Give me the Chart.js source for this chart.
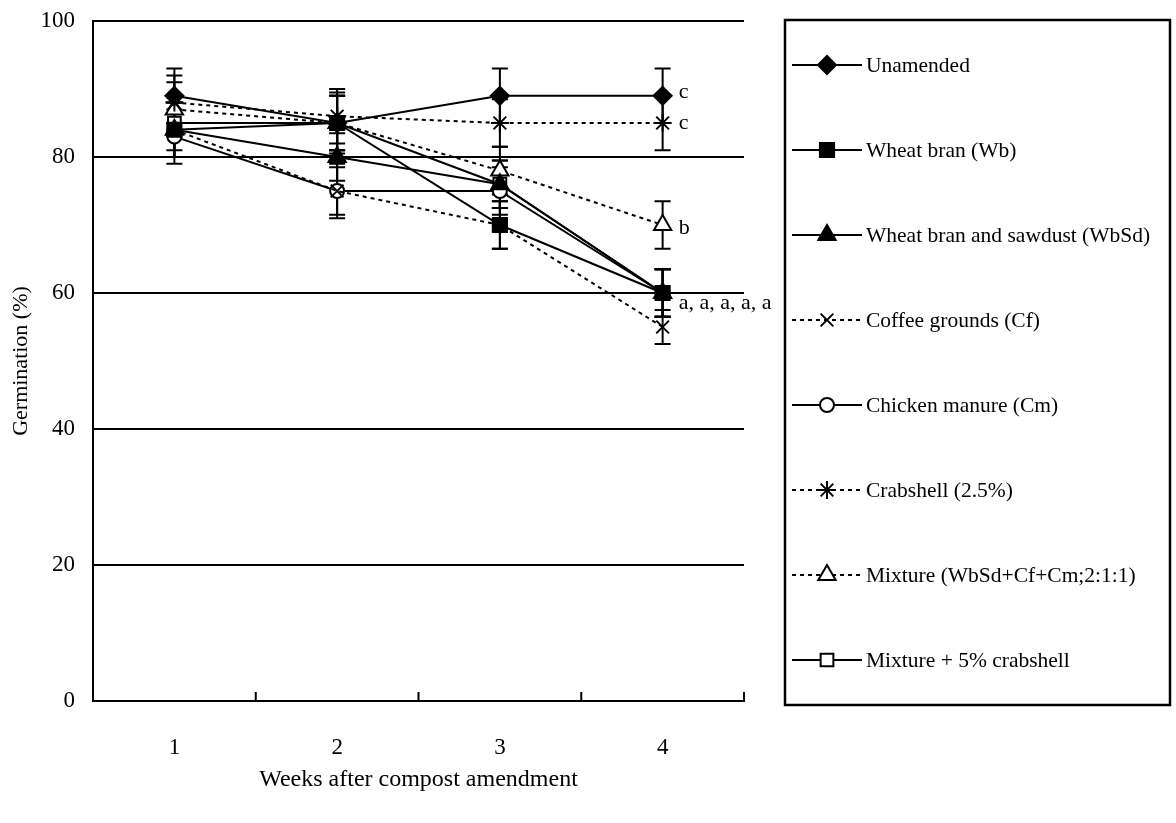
<!DOCTYPE html>
<html>
<head>
<meta charset="utf-8">
<script src="https://cdn.jsdelivr.net/npm/chart.js@4/dist/chart.umd.min.js"></script>
<style>
  html, body { margin: 0; padding: 0; background: #fff; }
  #wrap { width: 1176px; height: 823px; position: relative; }
</style>
</head>
<body>
<div id="wrap"><canvas id="germ"></canvas></div>
<script>
// ── Data ──────────────────────────────────────────────────────────────────────

const weeks = ['1', '2', '3', '4'];
const yTicks = [0, 20, 40, 60, 80, 100];

const seriesNames = [
	'Unamended',
	'Wheat bran (Wb)',
	'Wheat bran and sawdust (WbSd)',
	'Coffee grounds (Cf)',
	'Chicken manure (Cm)',
	'Crabshell (2.5%)',
	'Mixture (WbSd+Cf+Cm;2:1:1)',
	'Mixture + 5% crabshell',
];

const unamended = [89, 85, 89, 89];
const wheatBran = [84, 85, 70, 60];
const wheatBranSawdust = [84, 80, 76, 60];
const coffeeGrounds = [84, 75, 70, 55];
const chickenManure = [83, 75, 75, 60];
const crabshell = [88, 86, 85, 85];
const mixture = [87, 85, 78, 70];
const mixtureCrab = [85, 85, 76, 60];

// standard error (±) per point
const errUnamended = [4, 4.5, 4, 4];
const errWheatBran = [4, 4, 3.5, 3.5];
const errWheatBranSawdust = [4, 3.5, 3.5, 3.5];
const errCoffeeGrounds = [4, 4, 3.5, 2.5];
const errChickenManure = [4, 3.5, 3.5, 3.5];
const errCrabshell = [4, 4, 3.5, 4];
const errMixture = [4, 4, 3.5, 3.5];
const errMixtureCrab = [4, 4, 3.5, 3.5];

// significance letters at week 4
const letterText = ['c', 'c', 'b', 'a, a, a, a, a'];
const letterValue = [89.5, 85, 69.5, 58.5];

// ── Styles ────────────────────────────────────────────────────────────────────

const FONT = "'Liberation Serif', 'Times New Roman', serif";
const DASH = [4, 4];

const seriesValues = [unamended, wheatBran, wheatBranSawdust, coffeeGrounds,
	chickenManure, crabshell, mixture, mixtureCrab];
const seriesErrors = [errUnamended, errWheatBran, errWheatBranSawdust, errCoffeeGrounds,
	errChickenManure, errCrabshell, errMixture, errMixtureCrab];

const STYLES = [
	{ point: 'rectRot', radius: 9, fill: '#000', dash: [] },
	{ point: 'rect', radius: 10, fill: '#000', dash: [] },
	{ point: 'triangle', radius: 10, fill: '#000', dash: [] },
	{ point: 'crossRot', radius: 9, fill: '#000', dash: DASH },
	{ point: 'circle', radius: 7, fill: '#fff', dash: [] },
	{ point: 'star', radius: 9, fill: '#000', dash: DASH },
	{ point: 'triangle', radius: 10, fill: '#fff', dash: DASH },
	{ point: 'rect', radius: 9, fill: '#fff', dash: [] },
];

const datasets = seriesNames.map((name, i) => ({
	label: name,
	data: seriesValues[i],
	errors: seriesErrors[i],
	borderColor: '#000',
	borderWidth: 2,
	borderDash: STYLES[i].dash,
	tension: 0,
	fill: false,
	pointStyle: STYLES[i].point,
	pointRadius: STYLES[i].radius,
	pointHoverRadius: STYLES[i].radius,
	pointBackgroundColor: STYLES[i].fill,
	pointBorderColor: '#000',
	pointBorderWidth: 2,
}));

// ── Marker drawing (legend) ───────────────────────────────────────────────────

function drawMarker(ctx, style, x, y) {
	const opts = {
		pointStyle: style.point,
		radius: style.radius,
		rotation: 0,
		borderWidth: 2,
	};
	ctx.save();
	ctx.setLineDash([]);
	ctx.fillStyle = style.fill;
	ctx.strokeStyle = '#000';
	ctx.lineWidth = 2;
	if (window.Chart && Chart.helpers && Chart.helpers.drawPoint) {
		Chart.helpers.drawPoint(ctx, opts, x, y);
	} else {
		ctx.beginPath();
		ctx.arc(x, y, style.radius, 0, Math.PI * 2);
		ctx.fill();
		ctx.stroke();
	}
	ctx.restore();
}

// ── Plugins ───────────────────────────────────────────────────────────────────

const errorBars = {
	id: 'errorBars',
	beforeDatasetsDraw(chart) {
		const { ctx, scales: { y } } = chart;
		ctx.save();
		ctx.strokeStyle = '#000';
		ctx.lineWidth = 2;
		ctx.setLineDash([]);
		chart.data.datasets.forEach((ds, i) => {
			const meta = chart.getDatasetMeta(i);
			ds.data.forEach((v, j) => {
				const e = ds.errors[j];
				const px = meta.data[j].x;
				const top = y.getPixelForValue(v + e);
				const bot = y.getPixelForValue(v - e);
				ctx.beginPath();
				ctx.moveTo(px, top);
				ctx.lineTo(px, bot);
				ctx.moveTo(px - 8, top);
				ctx.lineTo(px + 8, top);
				ctx.moveTo(px - 8, bot);
				ctx.lineTo(px + 8, bot);
				ctx.stroke();
			});
		});
		ctx.restore();
	},
};

const decorations = {
	id: 'decorations',
	afterDraw(chart) {
		const { ctx, scales: { x, y } } = chart;
		ctx.save();

		// inward tick marks on the x axis, between categories
		ctx.strokeStyle = '#000';
		ctx.lineWidth = 2;
		for (let i = 0; i < weeks.length; i++) {
			const px = x.getPixelForValue(i + 0.5);
			ctx.beginPath();
			ctx.moveTo(px, y.bottom);
			ctx.lineTo(px, y.bottom - 9);
			ctx.stroke();
		}

		// significance letters
		ctx.fillStyle = '#000';
		ctx.font = '22px ' + FONT;
		ctx.textBaseline = 'middle';
		ctx.textAlign = 'left';
		const lx = x.getPixelForValue(weeks.length - 1) + 16;
		letterText.forEach((t, i) => {
			ctx.fillText(t, lx, y.getPixelForValue(letterValue[i]));
		});

		// legend box
		const box = { left: 785, top: 20, right: 1170, bottom: 705 };
		ctx.lineWidth = 2.5;
		ctx.strokeRect(box.left, box.top, box.right - box.left, box.bottom - box.top);

		ctx.font = '21.5px ' + FONT;
		seriesNames.forEach((name, i) => {
			const cy = 65 + i * 85;
			ctx.save();
			ctx.lineWidth = 2;
			ctx.setLineDash(STYLES[i].dash);
			ctx.beginPath();
			ctx.moveTo(792, cy);
			ctx.lineTo(862, cy);
			ctx.stroke();
			ctx.restore();
			drawMarker(ctx, STYLES[i], 827, cy);
			ctx.fillText(name, 866, cy + 1);
		});

		ctx.restore();
	},
};

// ── Chart ─────────────────────────────────────────────────────────────────────

Chart.defaults.font.family = FONT;
Chart.defaults.color = '#000';

new Chart(document.getElementById('germ'), {
	type: 'line',
	data: { labels: weeks, datasets },
	options: {
		responsive: true,
		maintainAspectRatio: false,
		animation: false,
		events: [],
		layout: { padding: { top: 21, right: 432, left: 0, bottom: 0 } },
		plugins: {
			legend: { display: false },
			tooltip: { enabled: false },
		},
		scales: {
			x: {
				offset: true,
				grid: { display: false },
				border: { display: true, color: '#000', width: 2 },
				ticks: { font: { size: 23 }, color: '#000', padding: 25 },
				title: {
					display: true,
					text: 'Weeks after compost amendment',
					font: { size: 24 },
					color: '#000',
					padding: { top: 0, bottom: 29 },
				},
				afterFit: (s) => {
					s.height = 122;
					s.paddingLeft = 0;
					s.paddingRight = 0;
				},
			},
			y: {
				min: 0,
				max: 100,
				afterBuildTicks: (s) => { s.ticks = yTicks.map((v) => ({ value: v })); },
				grid: { color: '#000', lineWidth: 2, drawTicks: false },
				border: { display: true, color: '#000', width: 2 },
				ticks: { font: { size: 23 }, color: '#000', padding: 18 },
				title: {
					display: true,
					text: 'Germination (%)',
					font: { size: 22 },
					color: '#000',
					padding: { top: 8, bottom: 0 },
				},
				afterFit: (s) => {
					s.width = 93;
					s.paddingTop = 0;
					s.paddingBottom = 0;
				},
			},
		},
	},
	plugins: [errorBars, decorations],
});
</script>
</body>
</html>
